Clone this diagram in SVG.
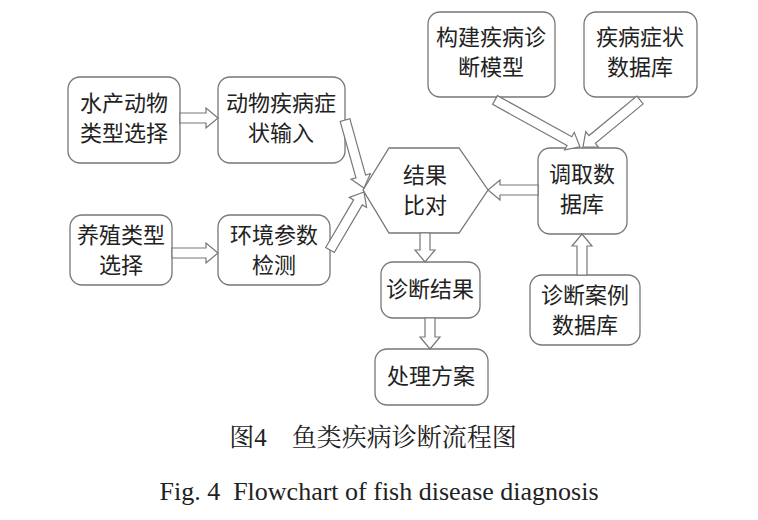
<svg xmlns="http://www.w3.org/2000/svg" width="758" height="520" viewBox="0 0 758 520">
<style>
.n{fill:#fff;stroke:#777;stroke-width:1.3}
.a{fill:#fff;stroke:#777;stroke-width:1.2}
text{font-family:"Noto Sans CJK SC","Liberation Serif",serif;font-size:22px;fill:#222;text-anchor:middle}
.c{font-family:"Liberation Serif","Noto Serif CJK SC","Noto Sans CJK SC",serif;font-size:25px}
.e{font-family:"Liberation Serif",serif;font-size:26px}
</style>
<rect width="758" height="520" fill="#fff"/>
<g id="n1"><rect class="n" x="68" y="77" width="112" height="86" rx="12"/><text x="124" y="111">水产动物</text><text x="124" y="141">类型选择</text></g>
<g id="n2"><rect class="n" x="218" y="77" width="127" height="86" rx="12"/><text x="281" y="111">动物疾病症</text><text x="281" y="141">状输入</text></g>
<g id="n3"><rect class="n" x="70" y="215" width="102" height="70" rx="12"/><text x="121" y="243">养殖类型</text><text x="121" y="273">选择</text></g>
<g id="n4"><rect class="n" x="218" y="215" width="112" height="70" rx="12"/><text x="274" y="243">环境参数</text><text x="274" y="273">检测</text></g>
<g id="n5"><rect class="n" x="428" y="12" width="127" height="85" rx="12"/><text x="491" y="45">构建疾病诊</text><text x="491" y="75">断模型</text></g>
<g id="n6"><rect class="n" x="584" y="12" width="113" height="85" rx="12"/><text x="640" y="45">疾病症状</text><text x="640" y="75">数据库</text></g>
<g id="n7"><rect class="n" x="538" y="148" width="89" height="86" rx="12"/><text x="582" y="182">调取数</text><text x="582" y="212">据库</text></g>
<g id="n8"><rect class="n" x="530" y="275" width="110" height="70" rx="12"/><text x="585" y="303">诊断案例</text><text x="585" y="333">数据库</text></g>
<g id="n9"><polygon class="n" points="363,190 389,148 459,148 488,190 459,233 389,233"/><text x="425" y="183">结果</text><text x="425" y="213">比对</text></g>
<g id="n10"><rect class="n" x="381" y="262" width="99" height="56" rx="12"/><text x="430" y="297">诊断结果</text></g>
<g id="n11"><rect class="n" x="375" y="349" width="113" height="56" rx="12"/><text x="431" y="384">处理方案</text></g>
<g id="connectors">
<polygon class="a" transform="translate(180,118)" points="0,-5 26,-5 26,-10 38,0 26,10 26,5 0,5"/>
<polygon class="a" transform="translate(172,253)" points="0,-5 34,-5 34,-10 46,0 34,10 34,5 0,5"/>
<polygon class="a" transform="translate(345,120) rotate(74.4)" points="0,-5 58.6,-5 58.6,-10 70.6,0 58.6,10 58.6,5 0,5"/>
<polygon class="a" transform="translate(330,250) rotate(-59.6)" points="0,-5 55.2,-5 55.2,-10 67.2,0 55.2,10 55.2,5 0,5"/>
<polygon class="a" transform="translate(538,190) rotate(180)" points="0,-5 38,-5 38,-10 50,0 38,10 38,5 0,5"/>
<polygon class="a" transform="translate(495,100) rotate(28.9)" points="0,-5 85,-5 85,-10 97,0 85,10 85,5 0,5"/>
<polygon class="a" transform="translate(640,100) rotate(140.5)" points="0,-5 62,-5 62,-10 74,0 62,10 62,5 0,5"/>
<polygon class="a" transform="translate(582,275) rotate(-90)" points="0,-5 29,-5 29,-10 41,0 29,10 29,5 0,5"/>
<polygon class="a" transform="translate(425,233) rotate(90)" points="0,-5 17,-5 17,-10 29,0 17,10 17,5 0,5"/>
<polygon class="a" transform="translate(430,318) rotate(90)" points="0,-5 19,-5 19,-10 31,0 19,10 19,5 0,5"/>
</g>
<text class="c" x="373" y="446" xml:space="preserve">图4　鱼类疾病诊断流程图</text>
<text class="e" x="379" y="500" xml:space="preserve">Fig. 4  Flowchart of fish disease diagnosis</text>
</svg>
